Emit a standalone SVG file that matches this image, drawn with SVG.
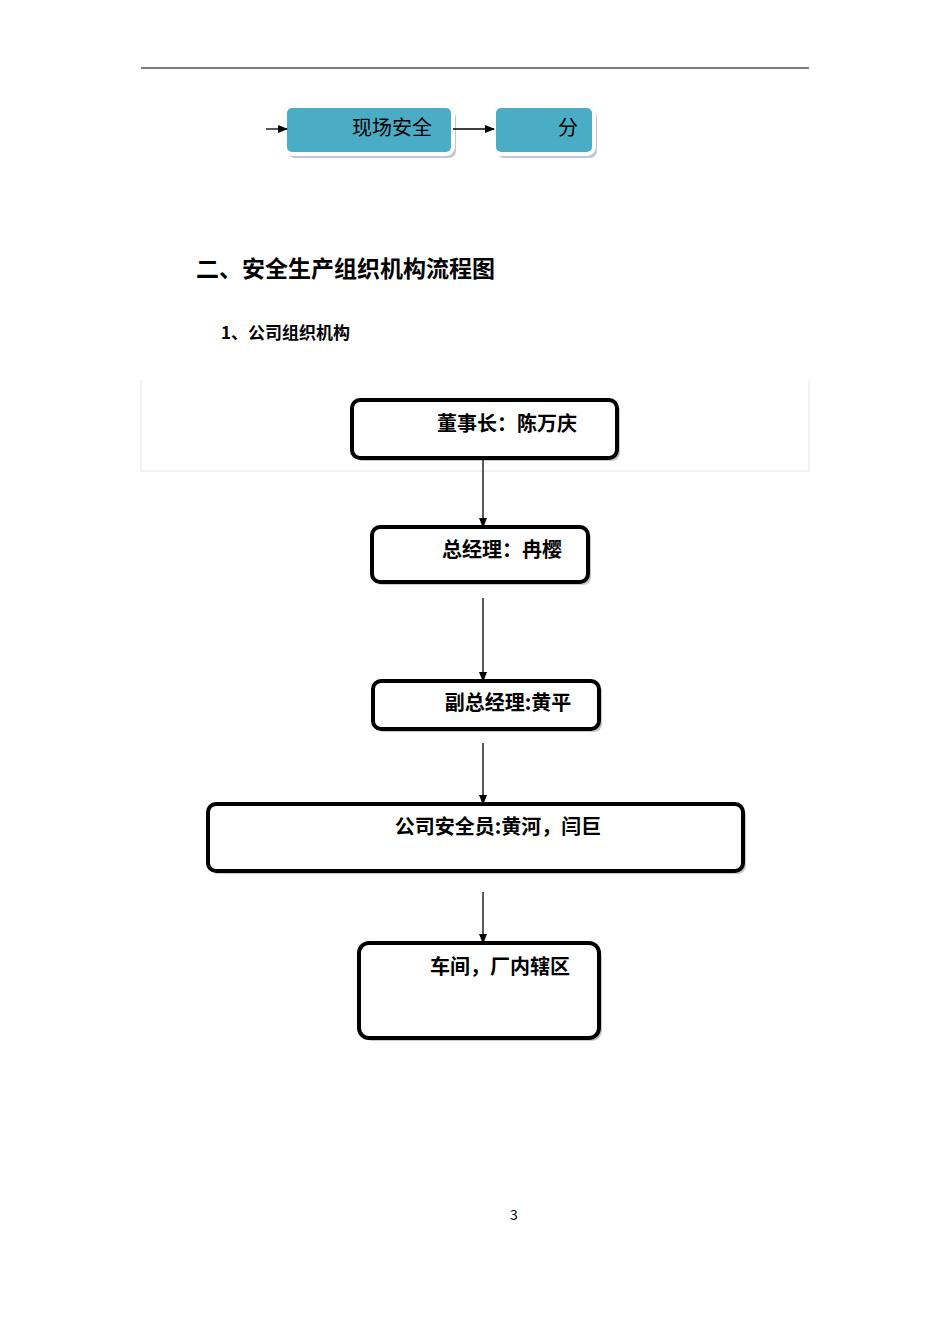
<svg xmlns="http://www.w3.org/2000/svg" width="950" height="1344" viewBox="0 0 950 1344">
<defs>
<style>
.t{font-family:"Noto Sans CJK SC","Liberation Sans",sans-serif;fill:#000}
.b{fill:#fff;stroke:#000;stroke-width:4}
.sh{fill:#bfc7cf}
.bl{fill:#4bacc6;stroke:#fff;stroke-width:4}
.c{stroke:#000;stroke-width:1.3;fill:none;marker-end:url(#a)}
</style>
<marker id="a" markerWidth="10" markerHeight="8" refX="9" refY="4" orient="auto" markerUnits="userSpaceOnUse"><path d="M0,0L10,4L0,8z" fill="#000"/></marker>
</defs>
<rect width="950" height="1344" fill="#fff"/>
<line x1="141" y1="68" x2="809" y2="68" stroke="#000" stroke-width="1"/>
<path d="M141,380V471H809V380" fill="none" stroke="#e6e6e6" stroke-width="1"/>
<g id="n1"><rect x="288" y="110" width="168" height="48" rx="7" class="sh"/><rect x="285" y="106" width="168" height="48" rx="7" class="bl"/><text x="392" y="135" class="t" font-size="20" text-anchor="middle">现场安全</text></g>
<g id="n2"><rect x="497" y="110" width="100" height="48" rx="7" class="sh"/><rect x="494" y="106" width="100" height="48" rx="7" class="bl"/><text x="568" y="135" class="t" font-size="20" text-anchor="middle">分</text></g>
<text x="196" y="277" class="t" font-size="23" font-weight="bold">二、安全生产组织机构流程图</text>
<text x="221" y="339" class="t" font-size="17" font-weight="bold">1、公司组织机构</text>
<g id="n3"><rect x="355" y="403" width="265" height="58" rx="8" fill="#c5c9cd"/><rect x="352" y="400" width="265" height="58" rx="8" class="b"/><text x="507" y="431" class="t" font-size="20" font-weight="bold" text-anchor="middle">董事长：陈万庆</text></g>
<g id="n4"><rect x="375" y="530" width="216" height="55" rx="8" fill="#c5c9cd"/><rect x="372" y="527" width="216" height="55" rx="8" class="b"/><text x="502" y="557" class="t" font-size="20" font-weight="bold" text-anchor="middle">总经理：冉樱</text></g>
<g id="n5"><rect x="376" y="684" width="226" height="48" rx="8" fill="#c5c9cd"/><rect x="373" y="681" width="226" height="48" rx="8" class="b"/><text x="508" y="710" class="t" font-size="20" font-weight="bold" text-anchor="middle">副总经理:黄平</text></g>
<g id="n6"><rect x="211" y="807" width="535" height="67" rx="8" fill="#c5c9cd"/><rect x="208" y="804" width="535" height="67" rx="8" class="b"/><text x="498" y="834" class="t" font-size="20" font-weight="bold" text-anchor="middle">公司安全员:黄河，闫巨</text></g>
<g id="n7"><rect x="362" y="946" width="240" height="95" rx="10" fill="#c5c9cd"/><rect x="359" y="943" width="240" height="95" rx="10" class="b"/><text x="500" y="974" class="t" font-size="20" font-weight="bold" text-anchor="middle">车间，厂内辖区</text></g>
<g id="connectors">
<line x1="266" y1="129" x2="287" y2="129" class="c"/>
<line x1="453" y1="129" x2="494" y2="129" class="c"/>
<line x1="483" y1="460" x2="483" y2="527" class="c"/>
<line x1="483" y1="598" x2="483" y2="681" class="c"/>
<line x1="483" y1="743" x2="483" y2="804" class="c"/>
<line x1="483" y1="892" x2="483" y2="943" class="c"/>
</g>
<text x="514" y="1220" class="t" font-size="14" text-anchor="middle" fill="#444">3</text>
</svg>
